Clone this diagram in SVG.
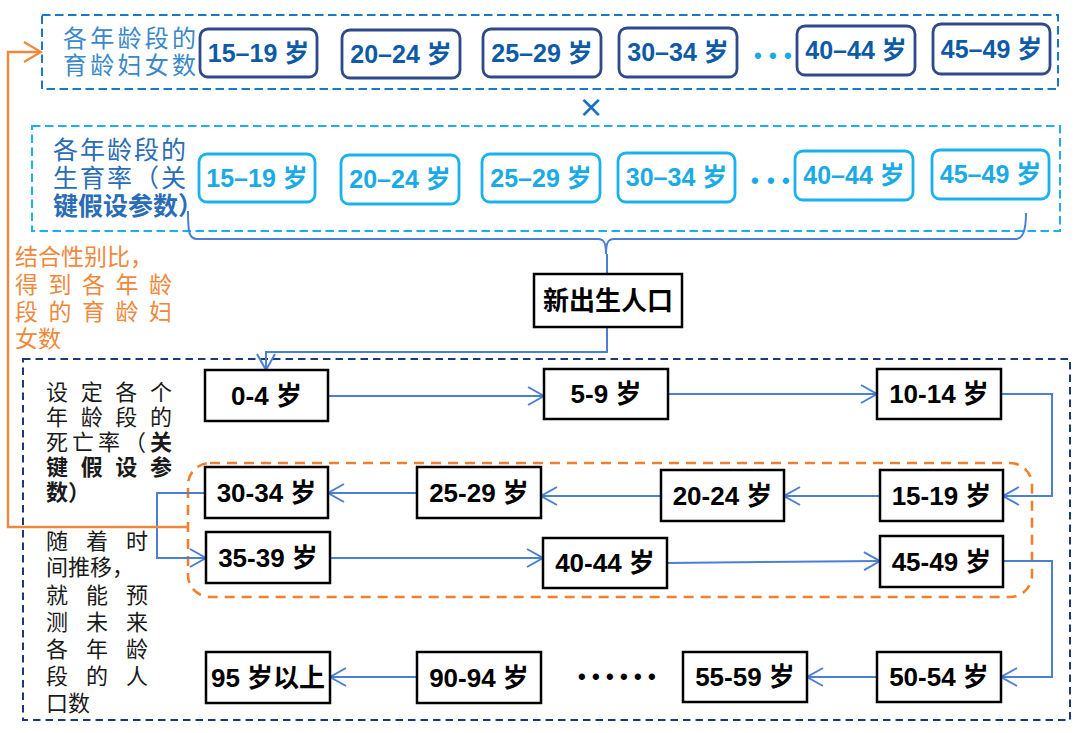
<svg xmlns="http://www.w3.org/2000/svg" width="1080" height="733" viewBox="0 0 1080 733">
<defs>
<style>
.cjk{font-family:"Liberation Sans","Noto Sans CJK SC",sans-serif;}
.nb rect{fill:#fff;stroke:#000;stroke-width:2.5;}
.nb text{font-family:"Liberation Sans","Noto Sans CJK SC",sans-serif;font-weight:bold;font-size:26px;fill:#000;text-anchor:middle;}
.tb rect{fill:#fff;stroke:#2e4a8a;stroke-width:2.8;}
.tb text{font-family:"Liberation Sans","Noto Sans CJK SC",sans-serif;font-weight:bold;font-size:25px;fill:#0d5aa7;text-anchor:middle;}
.sb rect{fill:#fff;stroke:#1ab2ee;stroke-width:2.8;}
.sb text{font-family:"Liberation Sans","Noto Sans CJK SC",sans-serif;font-weight:bold;font-size:25px;fill:#1aaae6;text-anchor:middle;}
.conn path{fill:none;stroke:#4a7fd4;stroke-width:2;}
.dots{font-family:"Liberation Sans",sans-serif;font-weight:bold;font-size:22px;}
</style>
<marker id="arr" viewBox="-18 -11 20 22" refX="0" refY="0" markerWidth="20" markerHeight="22" markerUnits="userSpaceOnUse" orient="auto">
<path d="M-16,-9 L0,0 L-16,9" fill="none" stroke="#4a7fd4" stroke-width="2"/>
</marker>
<marker id="arrO" viewBox="-20 -12 22 24" refX="0" refY="0" markerWidth="22" markerHeight="24" markerUnits="userSpaceOnUse" orient="auto">
<path d="M-17,-10 L0,0 L-17,10" fill="none" stroke="#f0883c" stroke-width="2.2"/>
</marker>
</defs>
<rect width="1080" height="733" fill="#fff"/>

<!-- containers -->
<rect x="42" y="15" width="1016" height="74" fill="none" stroke="#1a78c8" stroke-width="2" stroke-dasharray="8.5 4.5"/>
<rect x="32" y="126" width="1028" height="105" fill="none" stroke="#1ab0f0" stroke-width="2" stroke-dasharray="8.5 4.5"/>
<rect x="23" y="359" width="1047" height="361" fill="none" stroke="#1b3a7a" stroke-width="2" stroke-dasharray="7.5 5"/>
<rect x="188" y="463" width="844" height="134" rx="22" fill="none" stroke="#f08030" stroke-width="2.6" stroke-dasharray="10 7"/>

<!-- texts -->
<text class="cjk" font-size="24" fill="#3a88c8"><tspan x="63" y="47" textLength="133" lengthAdjust="spacing">各年龄段的</tspan><tspan x="63" y="74" textLength="133" lengthAdjust="spacing">育龄妇女数</tspan></text>
<text class="cjk" font-size="25" fill="#2a6cb5"><tspan x="53" y="159" textLength="133" lengthAdjust="spacing">各年龄段的</tspan><tspan x="53" y="187" textLength="133" lengthAdjust="spacing">生育率（关</tspan><tspan x="53" y="215" font-weight="bold">键假设参数）</tspan></text>
<text x="591" y="117" font-family="Noto Sans CJK SC, sans-serif" font-size="26" font-weight="bold" fill="#1a6fc0" text-anchor="middle">×</text>

<text class="cjk" font-size="23" fill="#f0883c"><tspan x="15" y="265">结合性别比，</tspan><tspan x="15" y="293" textLength="157" lengthAdjust="spacing">得到各年龄</tspan><tspan x="15" y="320" textLength="157" lengthAdjust="spacing">段的育龄妇</tspan><tspan x="15" y="347">女数</tspan></text>

<text class="cjk" font-size="22" fill="#1a1a1a"><tspan x="46" y="400" textLength="126" lengthAdjust="spacing">设定各个</tspan><tspan x="46" y="425" textLength="126" lengthAdjust="spacing">年龄段的</tspan><tspan x="46" y="450" textLength="126" lengthAdjust="spacing">死亡率（<tspan font-weight="bold">关</tspan></tspan><tspan x="46" y="475" textLength="126" lengthAdjust="spacing" font-weight="bold">键假设参</tspan><tspan x="46" y="500" font-weight="bold">数）</tspan></text>

<text class="cjk" font-size="22" fill="#1a1a1a"><tspan x="46" y="549" textLength="102" lengthAdjust="spacing">随着时</tspan><tspan x="46" y="575">间推移，</tspan><tspan x="46" y="603" textLength="102" lengthAdjust="spacing">就能预</tspan><tspan x="46" y="630" textLength="102" lengthAdjust="spacing">测未来</tspan><tspan x="46" y="657" textLength="102" lengthAdjust="spacing">各年龄</tspan><tspan x="46" y="684" textLength="102" lengthAdjust="spacing">段的人</tspan><tspan x="46" y="711">口数</tspan></text>

<!-- dots -->
<text class="dots" fill="#1aa8e8" x="754 769 784" y="63">•••</text>
<text class="dots" fill="#1aa8e8" x="751 767 782" y="188">•••</text>
<text class="dots" fill="#000" x="578 592 606 620 634 648" y="684">••••••</text>

<!-- connectors -->
<g id="connectors" class="conn">
<path d="M188,211 C188,232 189,239 197,239 L598,239 C604,239 606,243 606,254 C606,243 608,239 614,239 L1016,239 C1023,239 1026,230 1026,213"/>
<path d="M607,254 V274"/>
<path d="M607,327 V352 H266 V370" marker-end="url(#arr)"/>
<path d="M328,396 H544" marker-end="url(#arr)"/>
<path d="M668,394 H877" marker-end="url(#arr)"/>
<path d="M1001,394 H1052 V496 H1003" marker-end="url(#arr)"/>
<path d="M880,496 H784" marker-end="url(#arr)"/>
<path d="M661,496 H541" marker-end="url(#arr)"/>
<path d="M417,493 H328" marker-end="url(#arr)"/>
<path d="M205,493 H157 V558 H206" marker-end="url(#arr)"/>
<path d="M330,558 H543" marker-end="url(#arr)"/>
<path d="M667,563 L880,561" marker-end="url(#arr)"/>
<path d="M1003,561 H1052 V677 H1001" marker-end="url(#arr)"/>
<path d="M877,677 H807" marker-end="url(#arr)"/>
<path d="M417,677 H330" marker-end="url(#arr)"/>
<path d="M188,527 H8 V52 H41" style="stroke:#f0883c;stroke-width:2.4" marker-end="url(#arrO)"/>
</g>

<!-- top row -->
<g id="t1" class="tb"><rect x="200" y="29" width="117" height="48" rx="8"/><text x="258.5" y="62">15–19 岁</text></g>
<g id="t2" class="tb"><rect x="342" y="30" width="118" height="48" rx="8"/><text x="401" y="63">20–24 岁</text></g>
<g id="t3" class="tb"><rect x="483" y="29" width="118" height="48" rx="8"/><text x="542" y="62">25–29 岁</text></g>
<g id="t4" class="tb"><rect x="619" y="28" width="118" height="49" rx="8"/><text x="678" y="61">30–34 岁</text></g>
<g id="t5" class="tb"><rect x="797" y="26" width="118" height="49" rx="8"/><text x="856" y="59">40–44 岁</text></g>
<g id="t6" class="tb"><rect x="933" y="24" width="117" height="50" rx="8"/><text x="991.5" y="58">45–49 岁</text></g>

<!-- second row -->
<g id="s1" class="sb"><rect x="199" y="154" width="116" height="48" rx="8"/><text x="257" y="187">15–19 岁</text></g>
<g id="s2" class="sb"><rect x="341" y="155" width="118" height="49" rx="8"/><text x="400" y="188">20–24 岁</text></g>
<g id="s3" class="sb"><rect x="482" y="154" width="118" height="48" rx="8"/><text x="541" y="187">25–29 岁</text></g>
<g id="s4" class="sb"><rect x="618" y="153" width="117" height="49" rx="8"/><text x="676.5" y="186">30–34 岁</text></g>
<g id="s5" class="sb"><rect x="795" y="151" width="118" height="49" rx="8"/><text x="854" y="184">40–44 岁</text></g>
<g id="s6" class="sb"><rect x="932" y="150" width="117" height="49" rx="8"/><text x="990.5" y="183">45–49 岁</text></g>

<!-- flow nodes -->
<g id="newborn" class="nb"><rect x="534" y="274" width="148" height="53"/><text x="608" y="310">新出生人口</text></g>
<g id="n0" class="nb"><rect x="205" y="370" width="123" height="51"/><text x="266.5" y="405">0-4 岁</text></g>
<g id="n1" class="nb"><rect x="544" y="369" width="124" height="50"/><text x="606" y="403">5-9 岁</text></g>
<g id="n2" class="nb"><rect x="877" y="369" width="124" height="50"/><text x="939" y="403">10-14 岁</text></g>
<g id="n3" class="nb"><rect x="880" y="470" width="123" height="51"/><text x="941.5" y="505">15-19 岁</text></g>
<g id="n4" class="nb"><rect x="661" y="470" width="123" height="51"/><text x="722.5" y="505">20-24 岁</text></g>
<g id="n5" class="nb"><rect x="417" y="467" width="124" height="51"/><text x="479" y="502">25-29 岁</text></g>
<g id="n6" class="nb"><rect x="205" y="467" width="123" height="51"/><text x="266.5" y="502">30-34 岁</text></g>
<g id="n7" class="nb"><rect x="206" y="532" width="124" height="51"/><text x="268" y="567">35-39 岁</text></g>
<g id="n8" class="nb"><rect x="543" y="538" width="124" height="50"/><text x="605" y="572">40-44 岁</text></g>
<g id="n9" class="nb"><rect x="880" y="536" width="123" height="51"/><text x="941.5" y="571">45-49 岁</text></g>
<g id="n10" class="nb"><rect x="877" y="652" width="124" height="50"/><text x="939" y="686">50-54 岁</text></g>
<g id="n11" class="nb"><rect x="683" y="652" width="124" height="50"/><text x="745" y="686">55-59 岁</text></g>
<g id="n12" class="nb"><rect x="417" y="652" width="124" height="51"/><text x="479" y="687">90-94 岁</text></g>
<g id="n13" class="nb"><rect x="206" y="652" width="124" height="51"/><text x="268" y="687">95 岁以上</text></g>
</svg>
